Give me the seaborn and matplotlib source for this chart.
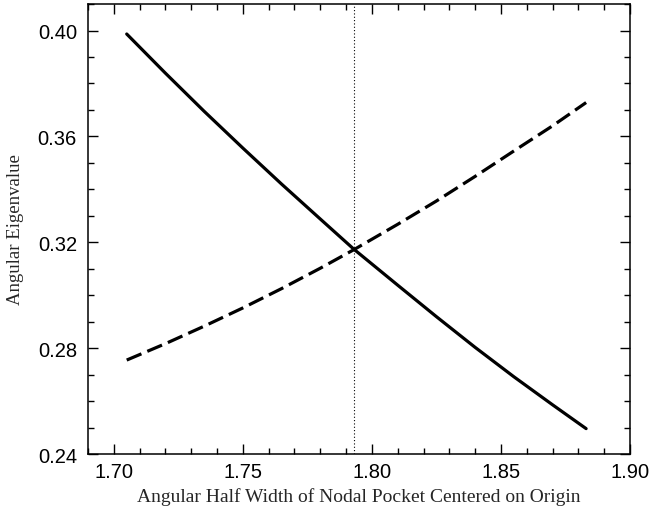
import matplotlib
matplotlib.use("Agg")
import matplotlib.pyplot as plt
from matplotlib.ticker import MultipleLocator
import numpy as np
import pandas as pd
import seaborn as sns

#%% Data
half_width = [1.705, 1.72, 1.735, 1.75, 1.765, 1.78, 1.793,
              1.81, 1.825, 1.84, 1.855, 1.87, 1.883]
eig_solid = [0.3987, 0.3839, 0.3695, 0.3556, 0.3420, 0.3288, 0.3174,
             0.3038, 0.2919, 0.2803, 0.2692, 0.2586, 0.2496]
eig_dashed = [0.2755, 0.2817, 0.2883, 0.2952, 0.3025, 0.3102, 0.3172,
              0.3268, 0.3356, 0.3449, 0.3545, 0.3640, 0.3728]
crossing_x = 1.793

df = pd.DataFrame({"x": half_width, "solid": eig_solid, "dashed": eig_dashed})

#%% Figure
sns.set_style("ticks")
plt.rcParams["font.family"] = ["Liberation Sans", "DejaVu Sans"]

fig = plt.figure(figsize=(6.49, 5.10), dpi=100)
ax = fig.add_axes([0.1356, 0.1078, 0.8351, 0.8822])

sns.lineplot(data=df, x="x", y="solid", ax=ax, color="black", linewidth=2.3)
sns.lineplot(data=df, x="x", y="dashed", ax=ax, color="black", linewidth=2.3)
ax.lines[-1].set_dashes((5, 2))

# dotted marker of the crossing point
ax.axvline(crossing_x, color="black", linewidth=0.8, linestyle=(0, (1, 2)))

ax.set_xlim(1.69, 1.90)
ax.set_ylim(0.24, 0.41)
xt = np.arange(1.70, 1.901, 0.05)
yt = np.arange(0.24, 0.401, 0.04)
ax.set_xticks(xt)
ax.set_yticks(yt)
ax.xaxis.set_minor_locator(MultipleLocator(0.01))
ax.yaxis.set_minor_locator(MultipleLocator(0.01))
ax.set_xticklabels([f"{v:.2f}" for v in xt])
ax.set_yticklabels([f"{v:.2f}" for v in yt])

ax.tick_params(which="both", direction="in", top=True, right=True,
               labelsize=14.5, width=1.0, colors="black")
ax.tick_params(axis="x", pad=6)
ax.tick_params(axis="y", pad=8)
ax.tick_params(which="major", length=7)
ax.tick_params(which="minor", length=4)
for sp in ax.spines.values():
    sp.set_linewidth(1.1)
    sp.set_color("black")
    sp.set_visible(True)

ax.set_xlabel("Angular Half Width of Nodal Pocket Centered on Origin",
              family="Liberation Serif", fontsize=14, labelpad=4)
ax.set_ylabel("Angular Eigenvalue", family="Liberation Serif", fontsize=13.5,
              labelpad=10)

fig.savefig("out.png", dpi=100)
